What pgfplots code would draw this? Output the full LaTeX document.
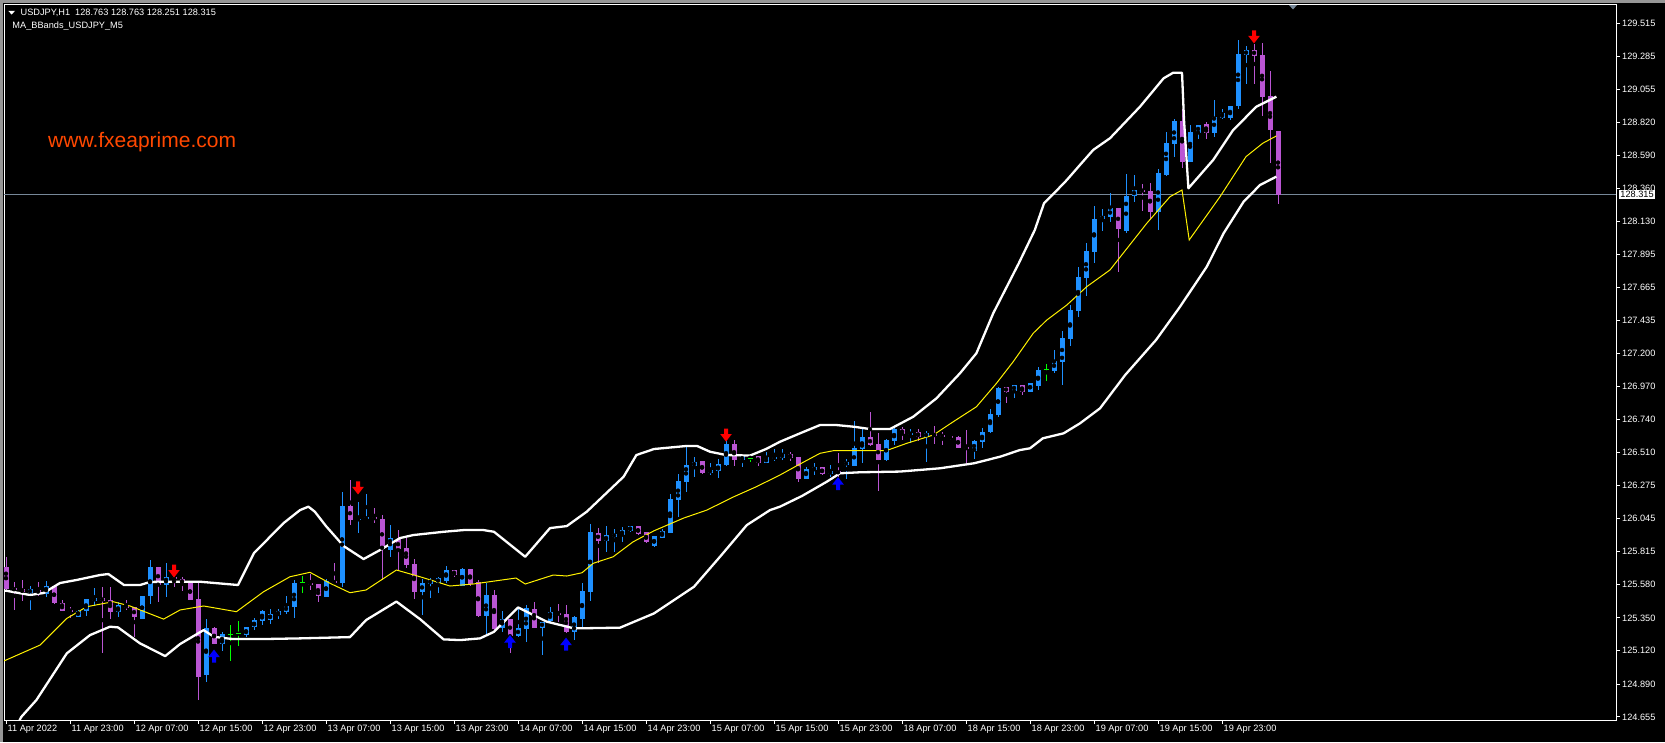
\documentclass[border=0pt]{standalone}
\usepackage{fontspec}
\setmainfont{Liberation Sans}
\usepackage{pgfplots}
\usepackage{pgfplotstable}
\pgfplotsset{compat=1.18}
\definecolor{bull}{RGB}{30,144,255}
\definecolor{bear}{RGB}{186,85,211}
\definecolor{doji}{RGB}{0,255,0}
\definecolor{frameGray}{RGB}{150,150,150}
\definecolor{curline}{RGB}{119,136,153}
\definecolor{wm}{RGB}{255,72,0}
\definecolor{upblue}{RGB}{0,0,255}

\pgfdeclareplotmark{dnarrow}{%
  \pgfpathmoveto{\pgfqpoint{-2pt}{6.5pt}}%
  \pgfpathlineto{\pgfqpoint{2pt}{6.5pt}}%
  \pgfpathlineto{\pgfqpoint{2pt}{1pt}}%
  \pgfpathlineto{\pgfqpoint{5.8pt}{1pt}}%
  \pgfpathlineto{\pgfqpoint{0pt}{-6.5pt}}%
  \pgfpathlineto{\pgfqpoint{-5.8pt}{1pt}}%
  \pgfpathlineto{\pgfqpoint{-2pt}{1pt}}%
  \pgfpathclose\pgfusepathqfill}
\pgfdeclareplotmark{uparrow}{%
  \pgfpathmoveto{\pgfqpoint{-2pt}{-6.5pt}}%
  \pgfpathlineto{\pgfqpoint{2pt}{-6.5pt}}%
  \pgfpathlineto{\pgfqpoint{2pt}{-1pt}}%
  \pgfpathlineto{\pgfqpoint{5.8pt}{-1pt}}%
  \pgfpathlineto{\pgfqpoint{0pt}{6.5pt}}%
  \pgfpathlineto{\pgfqpoint{-5.8pt}{-1pt}}%
  \pgfpathlineto{\pgfqpoint{-2pt}{-1pt}}%
  \pgfpathclose\pgfusepathqfill}

\pgfplotstableread{
x o h l c
3 125.525 125.572 125.404 125.549
5 125.516 125.607 125.497 125.572
9 125.357 125.408 125.357 125.399
10 125.394 125.483 125.364 125.479
11 125.469 125.558 125.432 125.488
14 125.392 125.460 125.352 125.439
17 125.340 125.502 125.338 125.502
18 125.502 125.754 125.446 125.707
20 125.577 125.735 125.497 125.637
25 124.948 125.340 124.901 125.277
27 125.165 125.251 125.118 125.240
30 125.228 125.287 125.216 125.282
31 125.282 125.347 125.263 125.333
32 125.329 125.408 125.298 125.399
33 125.338 125.408 125.305 125.376
34 125.369 125.413 125.340 125.399
35 125.392 125.502 125.376 125.432
36 125.427 125.614 125.350 125.595
40 125.497 125.619 125.493 125.609
42 125.595 126.233 125.567 126.132
44 126.034 126.163 125.945 126.046
45 126.041 126.217 126.034 126.055
48 125.824 125.999 125.777 125.908
52 125.532 125.619 125.369 125.591
53 125.591 125.626 125.486 125.614
54 125.595 125.633 125.525 125.626
55 125.609 125.712 125.595 125.684
57 125.574 125.696 125.574 125.691
60 125.362 125.591 125.228 125.509
62 125.280 125.397 125.251 125.340
64 125.223 125.427 125.212 125.280
65 125.270 125.439 125.181 125.415
67 125.280 125.322 125.088 125.322
68 125.326 125.427 125.322 125.387
71 125.251 125.362 125.193 125.354
72 125.340 125.591 125.275 125.537
73 125.532 126.011 125.469 125.952
75 125.887 125.992 125.812 125.929
76 125.917 125.976 125.812 125.936
77 125.929 125.983 125.882 125.964
78 125.957 125.992 125.952 125.992
81 125.852 125.922 125.847 125.922
82 125.906 125.976 125.906 125.957
83 125.945 126.217 125.945 126.179
84 126.175 126.357 126.057 126.308
85 126.303 126.548 126.233 126.420
86 126.415 126.474 126.334 126.441
88 126.366 126.432 126.350 126.387
89 126.380 126.462 126.331 126.427
90 126.420 126.595 126.413 126.567
92 126.455 126.490 126.408 126.483
95 126.436 126.513 126.432 126.474
96 126.462 126.537 126.450 126.478
97 126.471 126.530 126.455 126.497
100 126.322 126.404 126.322 126.392
101 126.385 126.432 126.350 126.404
103 126.357 126.420 126.338 126.378
105 126.420 126.464 126.322 126.443
106 126.413 126.728 126.413 126.537
107 126.532 126.677 126.436 126.614
110 126.455 126.600 126.448 126.595
111 126.590 126.684 126.560 126.672
113 126.637 126.674 126.572 126.646
115 126.614 126.660 126.443 126.646
121 126.520 126.595 126.462 126.588
122 126.583 126.677 126.541 126.653
123 126.653 126.812 126.642 126.777
124 126.770 126.969 126.758 126.964
126 126.941 126.981 126.892 126.981
128 126.934 126.997 126.934 126.997
129 126.976 127.105 126.946 127.086
131 127.081 127.226 127.067 127.149
132 127.144 127.359 126.985 127.310
133 127.305 127.541 127.256 127.506
134 127.501 127.806 127.459 127.740
135 127.733 127.978 127.604 127.922
136 127.915 128.235 127.838 128.144
137 128.142 128.212 128.062 128.165
138 128.160 128.324 128.125 128.219
140 128.060 128.459 128.044 128.305
141 128.307 128.452 128.265 128.347
144 128.195 128.494 128.067 128.466
145 128.452 128.756 128.447 128.677
146 128.672 128.843 128.577 128.831
148 128.546 128.801 128.541 128.754
149 128.749 128.801 128.703 128.801
151 128.749 128.978 128.721 128.859
152 128.850 128.913 128.845 128.885
153 128.852 128.936 128.838 128.936
154 128.936 129.399 128.913 129.301
155 129.294 129.357 129.090 129.329
}\bullT

\pgfplotstableread{
x o h l c
0 125.707 125.773 125.544 125.549
1 125.556 125.602 125.404 125.544
2 125.549 125.614 125.467 125.532
4 125.544 125.602 125.502 125.521
6 125.572 125.577 125.446 125.451
7 125.451 125.474 125.399 125.399
8 125.408 125.422 125.345 125.394
12 125.488 125.563 125.104 125.469
13 125.474 125.563 125.343 125.392
15 125.439 125.474 125.404 125.420
16 125.422 125.422 125.216 125.357
19 125.707 125.707 125.458 125.577
21 125.633 125.649 125.563 125.619
22 125.619 125.633 125.539 125.591
23 125.591 125.591 125.474 125.474
24 125.481 125.595 124.773 124.932
26 125.277 125.282 125.165 125.165
38 125.595 125.656 125.544 125.584
39 125.586 125.586 125.462 125.502
41 125.607 125.731 125.591 125.595
43 126.132 126.315 125.999 126.034
46 126.055 126.116 126.011 126.041
47 126.041 126.069 125.614 125.829
49 125.903 125.964 125.684 125.829
50 125.836 125.906 125.696 125.719
51 125.726 125.761 125.481 125.532
56 125.684 125.684 125.637 125.649
58 125.691 125.691 125.574 125.586
59 125.602 125.614 125.357 125.362
61 125.509 125.544 125.263 125.275
63 125.340 125.340 125.100 125.223
66 125.415 125.462 125.275 125.280
69 125.387 125.446 125.322 125.369
70 125.376 125.439 125.244 125.251
74 125.948 125.976 125.731 125.889
79 125.992 125.992 125.929 125.936
80 125.950 125.950 125.871 125.882
87 126.448 126.448 126.357 126.364
91 126.567 126.595 126.413 126.455
94 126.483 126.483 126.413 126.436
98 126.497 126.509 126.450 126.471
99 126.474 126.478 126.303 126.322
102 126.404 126.408 126.350 126.357
104 126.378 126.502 126.338 126.362
108 126.614 126.789 126.555 126.560
109 126.567 126.642 126.240 126.455
112 126.672 126.684 126.595 126.637
114 126.653 126.674 126.588 126.618
116 126.637 126.693 126.567 126.628
117 126.632 126.649 126.560 126.618
118 126.625 126.630 126.595 126.609
119 126.616 126.623 126.537 126.541
120 126.548 126.665 126.436 126.530
125 126.964 126.969 126.857 126.934
127 126.981 126.981 126.915 126.934
139 128.219 128.219 127.775 128.072
142 128.347 128.389 128.202 128.340
143 128.340 128.401 128.144 128.195
147 128.831 128.913 128.499 128.546
150 128.808 128.826 128.703 128.749
156 129.329 129.371 129.090 129.289
157 129.294 129.380 128.866 129.001
158 129.006 129.184 128.539 128.768
159 128.763 128.763 128.251 128.315
}\bearT

\pgfplotstableread{
x o h l c
28 125.233 125.298 125.048 125.233
29 125.240 125.326 125.151 125.240
37 125.598 125.642 125.525 125.598
93 126.467 126.497 126.443 126.467
130 127.086 127.128 127.011 127.086
}\dojiT

\pgfplotstableread{
x y
-0.3 125.537
0 125.539
3 125.509
4.7 125.523
6.75 125.593
8.8 125.614
11.75 125.649
12.8 125.656
14.75 125.579
16.75 125.579
18 125.600
19.25 125.602
24.25 125.602
29 125.579
31 125.803
34.7 126.013
36.75 126.104
37.8 126.128
38.6 126.093
40 125.992
42.2 125.852
44.7 125.761
46.75 125.824
49.25 125.908
50.9 125.929
54.7 125.952
57.2 125.964
59.7 125.964
61 125.952
64.9 125.777
68 125.978
70.1 125.992
72.6 126.093
77.2 126.338
78.8 126.490
81 126.532
85 126.553
86.4 126.553
88 126.513
90 126.490
93 126.486
95 126.532
96.75 126.583
99.25 126.642
101.75 126.700
103.8 126.700
106 126.688
108 126.672
110.5 126.672
113.4 126.758
116.3 126.887
119.25 127.063
121.3 127.203
123.4 127.483
126.6 127.834
128.6 128.067
129.75 128.254
131 128.324
132.6 128.417
134.25 128.523
135.9 128.628
138 128.710
141.75 128.931
144.7 129.130
145.9 129.169
147 129.169
147.25 128.838
147.8 128.359
150.9 128.558
153.4 128.768
156.3 128.931
158.8 129.001
}\bbUp

\pgfplotstableread{
x y
-0.3 125.046
0 125.053
4.25 125.158
7.6 125.345
10.1 125.427
13.4 125.462
15.5 125.432
19.7 125.340
21.75 125.404
24.7 125.432
28.8 125.392
32.2 125.532
35.5 125.637
38 125.668
40.5 125.591
43 125.525
45 125.544
48.8 125.684
51.75 125.637
55.5 125.572
58.4 125.586
63.75 125.628
64.9 125.586
68.4 125.649
70.1 125.642
72 125.665
73.4 125.731
75.9 125.777
78.4 125.882
81 125.959
84.7 126.048
87.6 126.104
91 126.198
93.8 126.268
96.75 126.350
99.25 126.427
101.75 126.502
103.4 126.520
110 126.520
112.6 126.572
115.9 126.630
118.4 126.723
121.3 126.828
123.8 126.992
125.9 127.144
128.4 127.343
130.1 127.436
132.6 127.541
135.1 127.670
138 127.787
142.6 128.114
145.5 128.300
147 128.347
147.9 127.997
151.75 128.300
155 128.581
157.1 128.675
158.8 128.726
}\bbMid

\pgfplotstableread{
x y
1.4 124.598
1.9 124.654
3.8 124.773
7.6 125.100
10.5 125.228
13 125.287
14 125.282
16.75 125.170
19.9 125.081
21.75 125.165
24.7 125.263
26 125.216
28.4 125.200
31.75 125.200
36.75 125.205
43 125.214
45 125.333
48.8 125.463
51.75 125.340
54.7 125.198
56.75 125.193
59.25 125.205
61 125.251
64 125.422
67.6 125.322
71 125.275
76.75 125.280
81 125.380
86 125.567
89.25 125.777
92.6 125.999
95.5 126.104
96.75 126.128
99.5 126.203
102.6 126.303
104.25 126.362
106.75 126.369
111.75 126.374
116.75 126.397
121 126.432
124.25 126.478
126.75 126.525
128 126.537
129.6 126.607
132.2 126.642
134.25 126.712
136.75 126.817
139.9 127.051
143.75 127.296
146.75 127.529
150.1 127.810
152.2 128.044
154.7 128.265
156.75 128.382
158.8 128.441
}\bbLow

\newcommand{\lbl}{\fontsize{9.2}{11}\selectfont}

\begin{document}
\begin{tikzpicture}
\useasboundingbox (0pt,0pt) rectangle (1665pt,-742pt);
\fill[black] (0pt,0pt) rectangle (1665pt,-742pt);
\fill[frameGray] (0pt,0pt) rectangle (1665pt,-2.7pt);
\fill[frameGray] (0pt,0pt) rectangle (2.7pt,-742pt);

\begin{axis}[
  at={(4pt,-4.5pt)}, anchor=north west,
  scale only axis, width=1612pt, height=715.5pt,
  xmin=-0.25, xmax=201.25, ymin=124.633, ymax=129.647,
  axis line style={white, line width=1pt},
  axis background/.style={fill=black},
  clip=true,
  xtick={0,8,16,24,32,40,48,56,64,72,80,88,96,104,112,120,128,136,144,152},
  xticklabels={11 Apr 2022,11 Apr 23:00,12 Apr 07:00,12 Apr 15:00,12 Apr 23:00,13 Apr 07:00,13 Apr 15:00,13 Apr 23:00,14 Apr 07:00,14 Apr 15:00,14 Apr 23:00,15 Apr 07:00,15 Apr 15:00,15 Apr 23:00,18 Apr 07:00,18 Apr 15:00,18 Apr 23:00,19 Apr 07:00,19 Apr 15:00,19 Apr 23:00},
  ytick={124.655,124.886,125.118,125.349,125.581,125.812,126.044,126.275,126.506,126.738,126.969,127.201,127.432,127.664,127.895,128.126,128.358,128.589,128.821,129.052,129.284,129.515},
  yticklabels={124.655,124.890,125.120,125.350,125.580,125.815,126.045,126.275,126.510,126.740,126.970,127.200,127.435,127.665,127.895,128.130,128.360,128.590,128.820,129.055,129.285,129.515},
  xtick pos=bottom, ytick pos=right, yticklabel pos=right,
  tick align=outside, major tick length=4pt,
  tick style={white, line width=0.8pt},
  ticklabel style={font=\lbl, text=white, inner sep=0pt},
  xticklabel style={anchor=north west, xshift=1.5pt, yshift=-1pt},
  yticklabel style={anchor=west, xshift=2pt},
]
\addplot[curline, line width=0.9pt, forget plot] coordinates {(-0.25,128.315) (201.25,128.315)};

\addplot[only marks, mark=none, forget plot, error bars/.cd, y dir=both, y explicit, error mark=none,
  error bar style={draw=bull, line width=1pt}]
  table[x=x, y expr={(\thisrow{h}+\thisrow{l})/2}, y error expr={(\thisrow{h}-\thisrow{l})/2}] {\bullT};
\addplot[only marks, mark=none, forget plot, error bars/.cd, y dir=both, y explicit, error mark=none,
  error bar style={draw=bear, line width=1pt}]
  table[x=x, y expr={(\thisrow{h}+\thisrow{l})/2}, y error expr={(\thisrow{h}-\thisrow{l})/2}] {\bearT};
\addplot[only marks, mark=none, forget plot, error bars/.cd, y dir=both, y explicit, error mark=none,
  error bar style={draw=doji, line width=1pt}]
  table[x=x, y expr={(\thisrow{h}+\thisrow{l})/2}, y error expr={(\thisrow{h}-\thisrow{l})/2}] {\dojiT};
\addplot[only marks, mark=none, forget plot, error bars/.cd, y dir=both, y explicit, error mark=none,
  error bar style={draw=bull, line width=5pt}]
  table[x=x, y expr={(\thisrow{o}+\thisrow{c})/2}, y error expr={max(abs(\thisrow{c}-\thisrow{o})/2,0.004)}] {\bullT};
\addplot[only marks, mark=none, forget plot, error bars/.cd, y dir=both, y explicit, error mark=none,
  error bar style={draw=bear, line width=5pt}]
  table[x=x, y expr={(\thisrow{o}+\thisrow{c})/2}, y error expr={max(abs(\thisrow{c}-\thisrow{o})/2,0.004)}] {\bearT};
\addplot[only marks, mark=-, mark size=2.5pt, mark options={draw=doji, line width=1pt}, forget plot]
  table[x=x, y=o] {\dojiT};

\addplot[yellow, line width=1pt, forget plot] table[x=x,y=y] {\bbMid};
\addplot[white, line width=2.3pt, line join=round, forget plot] table[x=x,y=y] {\bbUp};
\addplot[white, line width=2.3pt, line join=round, forget plot] table[x=x,y=y] {\bbLow};

\addplot[only marks, mark=dnarrow, red, forget plot] coordinates {(21,125.677) (44,126.259) (90,126.630) (156,129.420)};
\addplot[only marks, mark=uparrow, upblue, forget plot] coordinates {(26,125.081) (63,125.183) (70,125.165) (104,126.290)};

\coordinate (cp) at (axis cs:201.25,128.315);
\end{axis}

\node[fill=white, text=black, inner sep=1.2pt, anchor=west, font=\lbl] at ([xshift=3pt]cp) {128.315};

\fill[white] (8.3pt,-10.8pt) -- (15pt,-10.8pt) -- (11.65pt,-14.6pt) -- cycle;
\node[anchor=west, inner sep=0pt, text=white, font=\lbl] at (20.5pt,-12.7pt) {USDJPY,H1\ \ 128.763 128.763 128.251 128.315};
\node[anchor=west, inner sep=0pt, text=white, font=\lbl] at (12.3pt,-25.7pt) {MA\_BBands\_USDJPY\_M5};
\node[anchor=base west, inner sep=0pt, text=wm, font=\fontsize{21}{24}\selectfont] at (48pt,-147.7pt) {www.fxeaprime.com};
\fill[curline] (1289pt,-5pt) -- (1297pt,-5pt) -- (1293pt,-9.5pt) -- cycle;
\end{tikzpicture}
\end{document}
